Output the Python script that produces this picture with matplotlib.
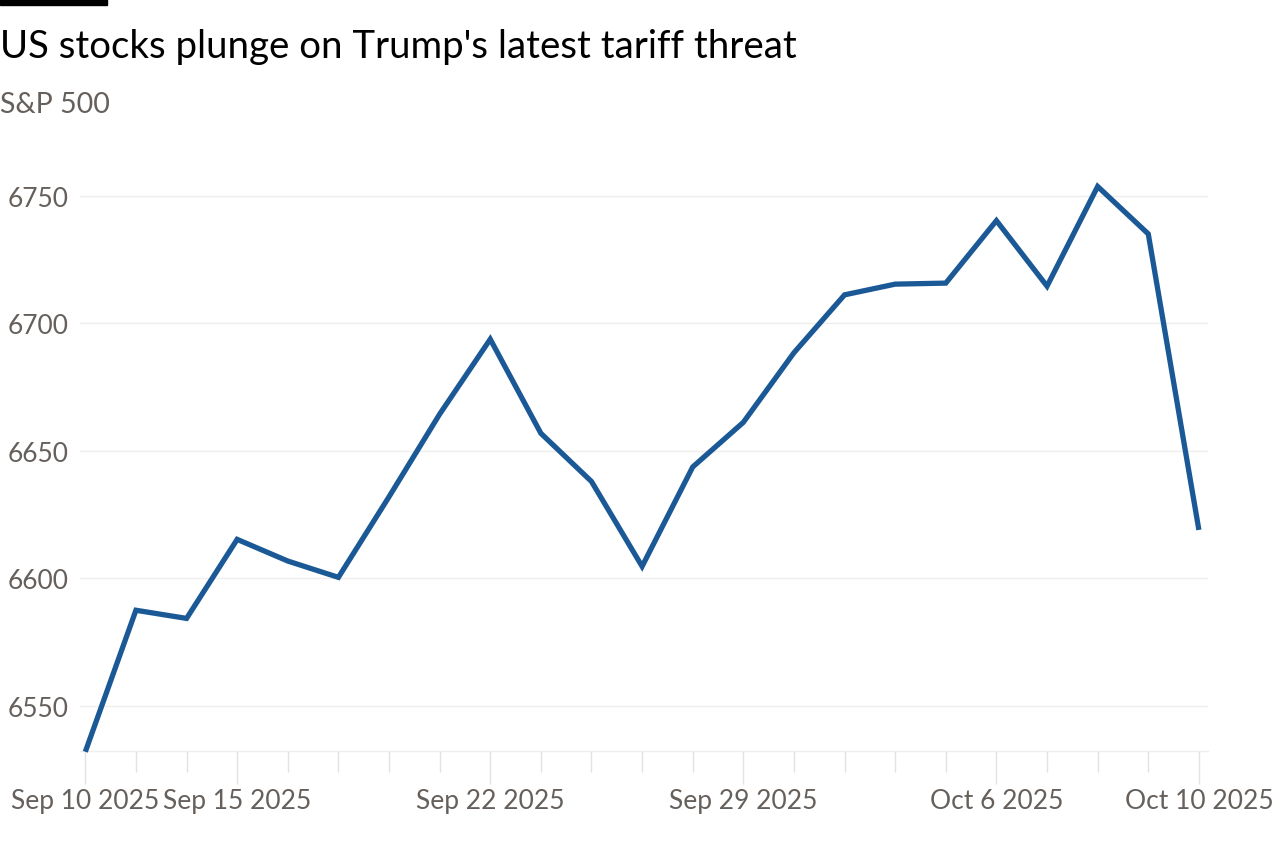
import matplotlib
matplotlib.use("Agg")
import matplotlib.pyplot as plt
from matplotlib.patches import Rectangle

dates = ["Sep 10", "Sep 11", "Sep 12", "Sep 15", "Sep 16", "Sep 17", "Sep 18", "Sep 19",
         "Sep 22", "Sep 23", "Sep 24", "Sep 25", "Sep 26", "Sep 29", "Sep 30",
         "Oct 1", "Oct 2", "Oct 3", "Oct 6", "Oct 7", "Oct 8", "Oct 9", "Oct 10"]
values = [6532.0, 6587.5, 6584.3, 6615.3, 6606.8, 6600.4, 6632.0, 6664.4,
          6693.8, 6656.9, 6638.0, 6604.7, 6643.7, 6661.2, 6688.5,
          6711.2, 6715.4, 6715.8, 6740.3, 6714.6, 6753.7, 6735.1, 6619.0]
labeled_dates = ["Sep 10", "Sep 15", "Sep 22", "Sep 29", "Oct 6", "Oct 10"]
y_ticks = [6550, 6600, 6650, 6700, 6750]

FONT = "Lato"
GRAY = "#66605c"
GRID = "#f0eeec"
TICK = "#e4e1de"
LINE = "#1b5996"

W, H = 1280, 845
fig = plt.figure(figsize=(W / 100, H / 100), dpi=100)
fig.patch.set_facecolor("white")

ax_l, ax_r, ax_t, ax_b = 80, 1208, 150, 752
ax = fig.add_axes([ax_l / W, 1 - ax_b / H, (ax_r - ax_l) / W, (ax_b - ax_t) / H])

xs = list(range(len(dates)))
ax.plot(xs, values, color=LINE, lw=3.8, solid_joinstyle="miter", solid_capstyle="butt",
        clip_on=False, zorder=3)

ax.set_xlim(-0.105, len(dates) - 1 + 0.18)
ax.set_ylim(6532.3, 6768.4)

for s in ["top", "right", "left"]:
    ax.spines[s].set_visible(False)
ax.spines["bottom"].set_color(GRID)
ax.spines["bottom"].set_linewidth(1.0)

ax.set_yticks(y_ticks)
ax.set_yticklabels([str(v) for v in y_ticks])
ax.yaxis.grid(True, color=GRID, lw=1.0)
ax.tick_params(axis="y", length=0, pad=8, labelsize=19, labelcolor=GRAY)

major_pos = [dates.index(d) for d in labeled_dates]
minor_pos = [i for i in xs if i not in major_pos]
ax.set_xticks(major_pos)
ax.set_xticklabels([d + " 2025" for d in labeled_dates])
ax.set_xticks(minor_pos, minor=True)
ax.tick_params(axis="x", which="major", length=24, width=1, color=TICK, pad=3,
               labelsize=19, labelcolor=GRAY)
ax.tick_params(axis="x", which="minor", length=15, width=1, color=TICK)

for lab in ax.get_xticklabels() + ax.get_yticklabels():
    lab.set_fontfamily(FONT)

fig.patches.append(Rectangle((0, 1 - 6 / H), 107 / W, 6 / H, transform=fig.transFigure,
                             color="black", zorder=5))
fig.text(0 / W, 1 - 58 / H, "US stocks plunge on Trump's latest tariff threat",
         fontsize=27.6, family=FONT, color="black", va="baseline", ha="left")
fig.text(0 / W, 1 - 113 / H, "S&P 500", fontsize=20.5, family=FONT, color=GRAY,
         va="baseline", ha="left")

fig.savefig("out.png", dpi=100, facecolor="white")
